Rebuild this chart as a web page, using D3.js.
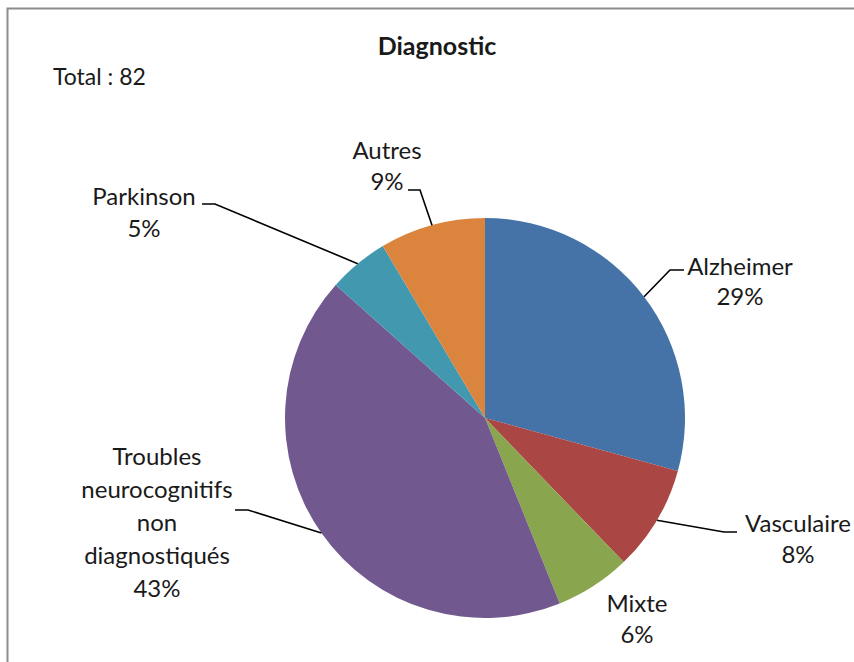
<!DOCTYPE html>
<html>
<head>
<meta charset="utf-8">
<script src="https://cdn.jsdelivr.net/npm/d3@7"></script>
<style>
  body { margin: 0; background: #fff; }
  text { font-family: Lato, "Open Sans", sans-serif; fill: #1a1a1a; }
</style>
</head>
<body>
<div id="chart"></div>
<script>
// data: patient counts per diagnosis (total 82) and the rounded % shown on the chart
const categories = ["Alzheimer", "Vasculaire", "Mixte", "Troubles neurocognitifs non diagnostiqués", "Parkinson", "Autres"];
const labelLines = [["Alzheimer"], ["Vasculaire"], ["Mixte"], ["Troubles", "neurocognitifs", "non", "diagnostiqués"], ["Parkinson"], ["Autres"]];
const counts = [24, 7, 5, 35, 4, 7];
const percents = [29, 8, 6, 43, 5, 9];
const colors = ["#4572A7", "#AA4643", "#89A54E", "#71588F", "#4198AF", "#DB843D"];
const total = 82;

// label layout: text centre x, first baseline y, line step, elbow point and end of the short horizontal (null = no leader)
const labelLayout = [
  { x: 740, y: 275, step: 30, elbow: [670, 270], end: [684, 270] },
  { x: 798, y: 532, step: 31, elbow: [724, 532], end: [737, 532] },
  { x: 637, y: 612, step: 31, elbow: null },
  { x: 157, y: 465, step: 33, elbow: [248, 510], end: [235, 510] },
  { x: 144, y: 205, step: 32, elbow: [215, 204], end: [202, 204] },
  { x: 387, y: 159, step: 31, elbow: [420, 190], end: [408, 190] }
];

const W = 854, H = 662;
const cx = 485, cy = 418, r = 200;

const svg = d3.select("#chart").append("svg")
  .attr("width", W).attr("height", H);

// frame
svg.append("path")
  .attr("d", "M7.5," + H + "V8.5H" + W)
  .attr("fill", "none").attr("stroke", "#8c8c8c").attr("stroke-width", 2);

svg.append("text")
  .attr("x", 437).attr("y", 55)
  .attr("text-anchor", "middle")
  .attr("font-size", 25).attr("font-weight", "bold")
  .text("Diagnostic");

svg.append("text")
  .attr("x", 53).attr("y", 85)
  .attr("font-size", 23)
  .text("Total : " + total);

const pie = d3.pie().sort(null).value(d => d);
const arcs = pie(counts);
const arc = d3.arc().innerRadius(0).outerRadius(r);

const g = svg.append("g").attr("transform", "translate(" + cx + "," + cy + ")");

g.selectAll("path.slice")
  .data(arcs)
  .enter()
  .append("path")
  .attr("class", "slice")
  .attr("d", arc)
  .attr("fill", (d, i) => colors[i]);

// leader lines, start on the rim at the slice middle
const rim = d3.arc().innerRadius(r).outerRadius(r);
arcs.forEach((d, i) => {
  const L = labelLayout[i];
  if (!L.elbow) return;
  const p = rim.centroid(d);
  const pts = [[cx + p[0], cy + p[1]], L.elbow, L.end];
  svg.append("path")
    .attr("d", d3.line()(pts))
    .attr("fill", "none")
    .attr("stroke", "#000")
    .attr("stroke-width", 1.6);
});

// labels
arcs.forEach((d, i) => {
  const L = labelLayout[i];
  const lines = labelLines[i].concat([percents[i] + "%"]);
  const t = svg.append("text")
    .attr("text-anchor", "middle")
    .attr("font-size", 24);
  lines.forEach((s, k) => {
    t.append("tspan").attr("x", L.x).attr("y", L.y + k * L.step).text(s);
  });
});
</script>
</body>
</html>
